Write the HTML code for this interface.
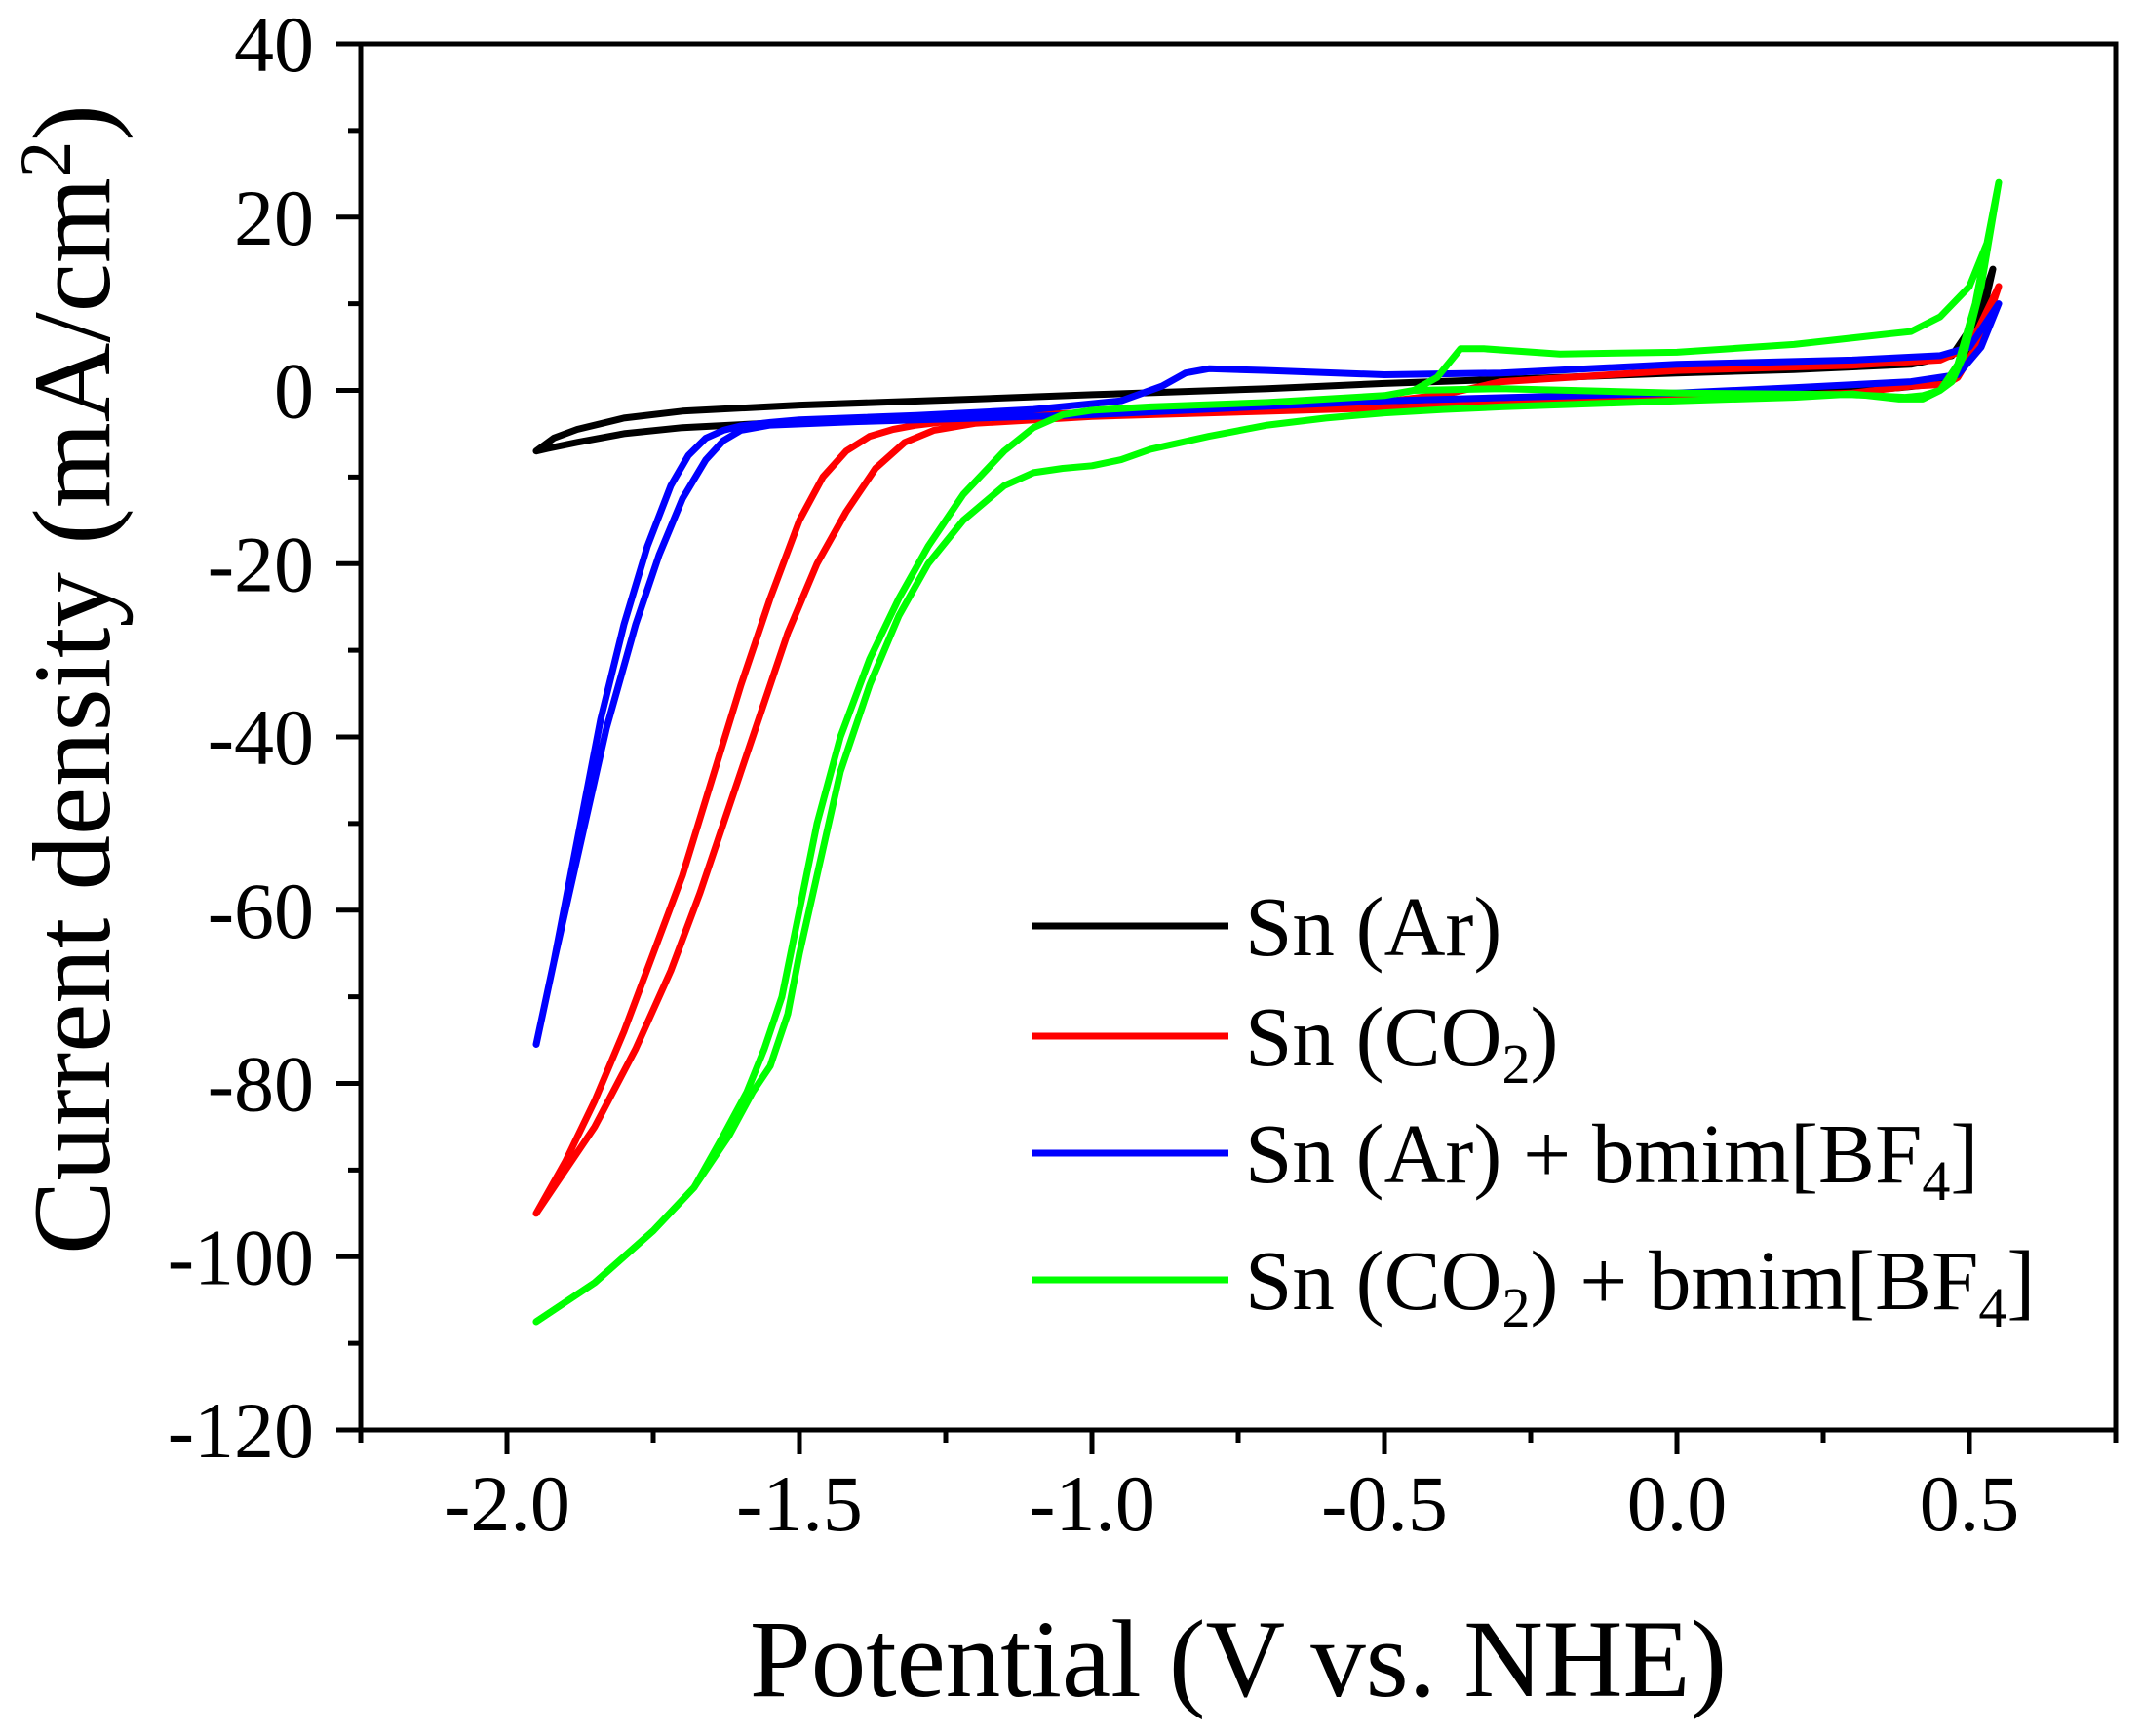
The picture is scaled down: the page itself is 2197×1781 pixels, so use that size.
<!DOCTYPE html>
<html><head><meta charset="utf-8"><style>
body{margin:0;background:#fff}
svg{display:block;font-family:"Liberation Serif","Times New Roman",serif}
</style></head><body>
<svg id="chart" width="2197" height="1781" viewBox="0 0 2197 1781" xmlns="http://www.w3.org/2000/svg">
<g id="plot"></g>
<g id="axes"></g>
<text x="1270" y="1740" font-size="113" text-anchor="middle">Potential (V vs. NHE)</text>
<text transform="translate(112,697) rotate(-90)" font-size="113" text-anchor="middle">Current density (mA/cm<tspan dy="-40" font-size="75">2</tspan><tspan dy="40">)</tspan></text>
<g id="legend"></g>
</svg>
<script>
const xTicks=[-2.0,-1.5,-1.0,-0.5,0.0,0.5];
const xTickLabels=["-2.0","-1.5","-1.0","-0.5","0.0","0.5"];
const yTicks=[40,20,0,-20,-40,-60,-80,-100,-120];
const yTickLabels=["40","20","0","-20","-40","-60","-80","-100","-120"];
const seriesNames=["Sn (Ar)","Sn (CO2)","Sn (Ar) + bmim[BF4]","Sn (CO2) + bmim[BF4]"];
const seriesColors=["#000000","#ff0000","#0000ff","#00ff00"];
const blackX=[-1.95,-1.92,-1.88,-1.8,-1.7,-1.5,-1.2,-1.0,-0.7,-0.5,-0.2,0,0.2,0.4,0.47,0.51,0.54,0.52,0.49,0.45,0.38,0.3,0,-0.3,-0.5,-0.8,-1.0,-1.3,-1.5,-1.7,-1.8,-1.88,-1.93,-1.95];
const blackY=[-7,-5.5,-4.5,-3.2,-2.4,-1.7,-1.0,-0.5,0.2,0.8,1.5,2,2.4,3,4,8,14,8,3,0.8,0.3,0,-0.4,-1,-1.5,-2.2,-2.6,-3.2,-3.6,-4.3,-5,-6,-6.7,-7];
const redX=[-1.95,-1.9,-1.85,-1.8,-1.75,-1.7,-1.65,-1.6,-1.55,-1.5,-1.46,-1.42,-1.38,-1.34,-1.3,-1.25,-1.2,-1.0,-0.7,-0.5,-0.4,-0.3,0,0.3,0.45,0.5,0.55,0.52,0.48,0.46,0.4,0.3,0,-0.5,-1.0,-1.2,-1.27,-1.32,-1.37,-1.42,-1.47,-1.52,-1.57,-1.62,-1.67,-1.72,-1.78,-1.85,-1.92,-1.95];
const redY=[-95,-89,-82,-74,-65,-56,-45,-34,-24,-15,-10,-7,-5.3,-4.5,-4,-3.6,-3.3,-2.5,-1.8,-1.3,-0.5,1,2.3,2.9,3.5,5,12,6,1.5,0.7,0.5,-0.3,-1,-2,-3,-3.8,-4.6,-6,-9,-14,-20,-28,-38,-48,-58,-67,-76,-85,-92,-95];
const blueX=[-1.95,-1.92,-1.88,-1.84,-1.8,-1.76,-1.72,-1.69,-1.66,-1.63,-1.6,-1.55,-1.5,-1.3,-1.1,-0.95,-0.88,-0.84,-0.8,-0.7,-0.5,-0.3,0,0.3,0.45,0.5,0.55,0.52,0.48,0.4,0.2,0,-0.5,-1.0,-1.4,-1.55,-1.6,-1.63,-1.66,-1.7,-1.74,-1.78,-1.83,-1.88,-1.92,-1.95];
const blueY=[-75.5,-66,-52,-38,-27,-18,-11,-7.5,-5.5,-4.6,-4.1,-3.7,-3.4,-2.9,-2.2,-1.2,0.5,2,2.5,2.3,1.8,2,3,3.5,4,5,10,5,1.8,1,0.3,-0.3,-1.2,-2.8,-3.6,-4,-4.6,-5.8,-8,-12.5,-19,-27,-39,-54,-66,-75.5];
const greenX=[-1.95,-1.85,-1.75,-1.68,-1.62,-1.58,-1.55,-1.52,-1.5,-1.47,-1.43,-1.38,-1.33,-1.28,-1.22,-1.15,-1.1,-1.05,-1.0,-0.95,-0.9,-0.8,-0.7,-0.6,-0.5,-0.4,-0.3,0,0.2,0.3,0.38,0.42,0.45,0.48,0.51,0.55,0.52,0.49,0.47,0.45,0.42,0.39,0.3,0,-0.3,-0.45,-0.41,-0.37,-0.33,-0.2,0,0.2,0.32,0.36,0.4,0.45,0.5,0.53,0.55];
const greenY=[-107.5,-103,-97,-92,-86,-81,-78,-72,-65,-56,-44,-34,-26,-20,-15,-11,-9.5,-9,-8.7,-8,-6.8,-5.3,-4,-3.2,-2.6,-2.2,-1.9,-1.2,-0.8,-0.4,-1,-1,0,3,10,24,12,4,1,0,-0.6,-0.8,-0.5,-0.3,0.2,0,1.5,4.8,4.8,4.2,4.4,5.3,6.2,6.5,6.8,8.5,12,17,24];
const greenRetX=[-1.95,-1.85,-1.75,-1.68,-1.63,-1.59,-1.56,-1.53,-1.5,-1.47,-1.43,-1.38,-1.33,-1.28,-1.22,-1.15,-1.1,-1.05,-1.0,-0.9,-0.7,-0.5,-0.45];
const greenRetY=[-107.5,-103,-97,-92,-86,-81,-76,-70,-60,-50,-40,-31,-24,-18,-12,-7,-4.3,-2.8,-2.3,-1.9,-1.4,-0.6,0];

const X0=370,X1=2170,Y0=45,Y1=1467;
const xs=v=>X0+(v+2.25)/3.0*(X1-X0);
const ys=v=>Y0+(40-v)/160*(Y1-Y0);
const NS="http://www.w3.org/2000/svg";
function mk(t,p){const e=document.createElementNS(NS,t);for(const k in p)e.setAttribute(k,p[k]);return e;}
const plot=document.getElementById('plot'),axes=document.getElementById('axes'),legend=document.getElementById('legend');
function drawSeries(xa,ya,color,name){
  const pts=xa.map((x,i)=>xs(x).toFixed(1)+','+ys(ya[i]).toFixed(1)).join(' ');
  const pl=mk('polyline',{points:pts,fill:'none',stroke:color,'stroke-width':7,'stroke-linejoin':'round','stroke-linecap':'round'});
  
  
  plot.appendChild(pl);
}
drawSeries(blackX,blackY,seriesColors[0],'series-sn-ar');
drawSeries(redX,redY,seriesColors[1],'series-sn-co2');
drawSeries(blueX,blueY,seriesColors[2],'series-sn-ar-bmim');
drawSeries(greenX,greenY,seriesColors[3],'series-sn-co2-bmim');
drawSeries(greenRetX,greenRetY,seriesColors[3],'series-sn-co2-bmim-return');
const fr=mk('rect',{x:X0,y:Y0,width:X1-X0,height:Y1-Y0,fill:'none',stroke:'#000','stroke-width':5});


axes.appendChild(fr);
for(let v=-120;v<=40;v+=10){
  const major=(v%20===0);
  const t=mk('line',{x1:X0,x2:X0-(major?25:13),y1:ys(v),y2:ys(v),stroke:'#000','stroke-width':5});
  
  
  axes.appendChild(t);
}
yTicks.forEach((v,i)=>{
  const t=mk('text',{x:322,y:ys(v)+28,'font-size':82,'text-anchor':'end'});
  t.textContent=yTickLabels[i];
  
  
  axes.appendChild(t);
});
for(let k=0;k<=12;k++){
  const v=-2.25+k*0.25;
  const major=(k%2===1);
  const t=mk('line',{x1:xs(v),x2:xs(v),y1:Y1,y2:Y1+(major?25:13),stroke:'#000','stroke-width':5});
  
  
  axes.appendChild(t);
}
xTicks.forEach((v,i)=>{
  const t=mk('text',{x:xs(v),y:1570,'font-size':82,'text-anchor':'middle'});
  t.textContent=xTickLabels[i];
  
  
  axes.appendChild(t);
});
const legY=[950,1063,1183,1313];
const legHTML=['Sn (Ar)','Sn (CO<tspan dy="18" font-size="58">2</tspan><tspan dy="-18">)</tspan>','Sn (Ar) + bmim[BF<tspan dy="18" font-size="58">4</tspan><tspan dy="-18">]</tspan>','Sn (CO<tspan dy="18" font-size="58">2</tspan><tspan dy="-18">) + bmim[BF</tspan><tspan dy="18" font-size="58">4</tspan><tspan dy="-18">]</tspan>'];
seriesNames.forEach((n,i)=>{
  const l=mk('line',{x1:1059,x2:1260,y1:legY[i],y2:legY[i],stroke:seriesColors[i],'stroke-width':7});
  
  
  legend.appendChild(l);
  const t=mk('text',{x:1277,y:legY[i]+30,'font-size':87});
  t.innerHTML=legHTML[i];
  
  
  legend.appendChild(t);
});
</script>
</body></html>
